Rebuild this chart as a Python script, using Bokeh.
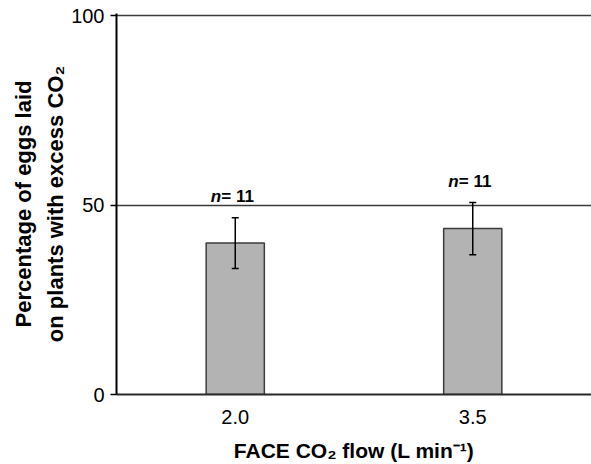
from bokeh.plotting import figure
from bokeh.models import ColumnDataSource, FixedTicker, Whisker
from bokeh.core.properties import value
from bokeh.embed import file_html
from bokeh.resources import INLINE

# Data
flows = ["2.0", "3.5"]
positions = [1, 2]
means = [40.0, 43.8]
errors = [6.7, 6.9]
n_labels = ["11", "11"]
y_ticks = [0, 50, 100]

upper = [m + e for m, e in zip(means, errors)]
lower = [m - e for m, e in zip(means, errors)]

src = ColumnDataSource(dict(x=positions, top=means, upper=upper, lower=lower,
                            n=["= " + s for s in n_labels], nn=["n", "n"]))

p = figure(width=591, height=464, output_backend="svg", toolbar_location=None,
           x_range=(0.5, 2.5), y_range=(0, 100.6),
           min_border_left=116, min_border_right=0, min_border_top=13, min_border_bottom=67)
p.outline_line_color = None
p.background_fill_color = "white"

p.vbar(x="x", top="top", width=0.245, bottom=0, source=src,
       fill_color="#b3b3b3", line_color="#3c3c3c", line_width=1.5)

w = Whisker(base="x", upper="upper", lower="lower", source=src,
            line_color="black", line_width=1.5, level="overlay")
w.upper_head.size = 7
w.lower_head.size = 7
w.upper_head.line_width = 1.5
w.lower_head.line_width = 1.5
w.upper_head.line_color = "black"
w.lower_head.line_color = "black"
p.add_layout(w)

p.text(x="x", y="upper", text="nn", source=src, text_align="right", text_baseline="middle",
       x_offset=-14, y_offset=-21, text_font=value("Liberation Sans"), text_font_size="17px",
       text_font_style="bold italic", text_color="black")
p.text(x="x", y="upper", text="n", source=src, text_align="left", text_baseline="middle",
       x_offset=-14, y_offset=-21, text_font=value("Liberation Sans"), text_font_size="17px",
       text_font_style="bold", text_color="black")

# axes
p.xaxis.ticker = FixedTicker(ticks=positions)
p.xaxis.major_label_overrides = {pos: lab for pos, lab in zip(positions, flows)}
p.xaxis.major_tick_line_color = None
p.xaxis.minor_tick_line_color = None
p.xaxis.axis_line_color = "#2a2a2a"
p.xaxis.axis_line_width = 2
p.xaxis.major_label_text_font = "Liberation Sans"
p.xaxis.major_label_text_font_size = "20px"
p.xaxis.major_label_text_color = "black"
p.xaxis.major_label_standoff = 9
p.xaxis.axis_label = "FACE CO\u2082 flow (L min\u207b\u00b9)"
p.xaxis.axis_label_text_font = "Liberation Sans"
p.xaxis.axis_label_text_font_size = "21px"
p.xaxis.axis_label_text_font_style = "bold"
p.xaxis.axis_label_text_color = "black"
p.xaxis.axis_label_standoff = 12

p.yaxis.ticker = FixedTicker(ticks=y_ticks)
p.yaxis.minor_tick_line_color = None
p.yaxis.major_tick_out = 6
p.yaxis.major_tick_in = 0
p.yaxis.major_tick_line_color = "black"
p.yaxis.major_tick_line_width = 1.5
p.yaxis.axis_line_color = "black"
p.yaxis.axis_line_width = 2
p.yaxis.major_label_text_font = "Liberation Sans"
p.yaxis.major_label_text_font_size = "20px"
p.yaxis.major_label_text_color = "black"
p.yaxis.major_label_standoff = 6
p.yaxis.axis_label = "Percentage of eggs laid\non plants with excess CO\u2082"
p.yaxis.axis_label_text_font = "Liberation Sans"
p.yaxis.axis_label_text_font_size = "22px"
p.yaxis.axis_label_text_font_style = "bold"
p.yaxis.axis_label_text_color = "black"
p.yaxis.axis_label_text_line_height = 1.3
p.yaxis.axis_label_standoff = 0

p.xgrid.grid_line_color = None
p.ygrid.ticker = FixedTicker(ticks=[50, 100])
p.ygrid.grid_line_color = "#3a3a3a"
p.ygrid.grid_line_width = 1.5

open("out.html", "w").write(file_html(p, INLINE))
